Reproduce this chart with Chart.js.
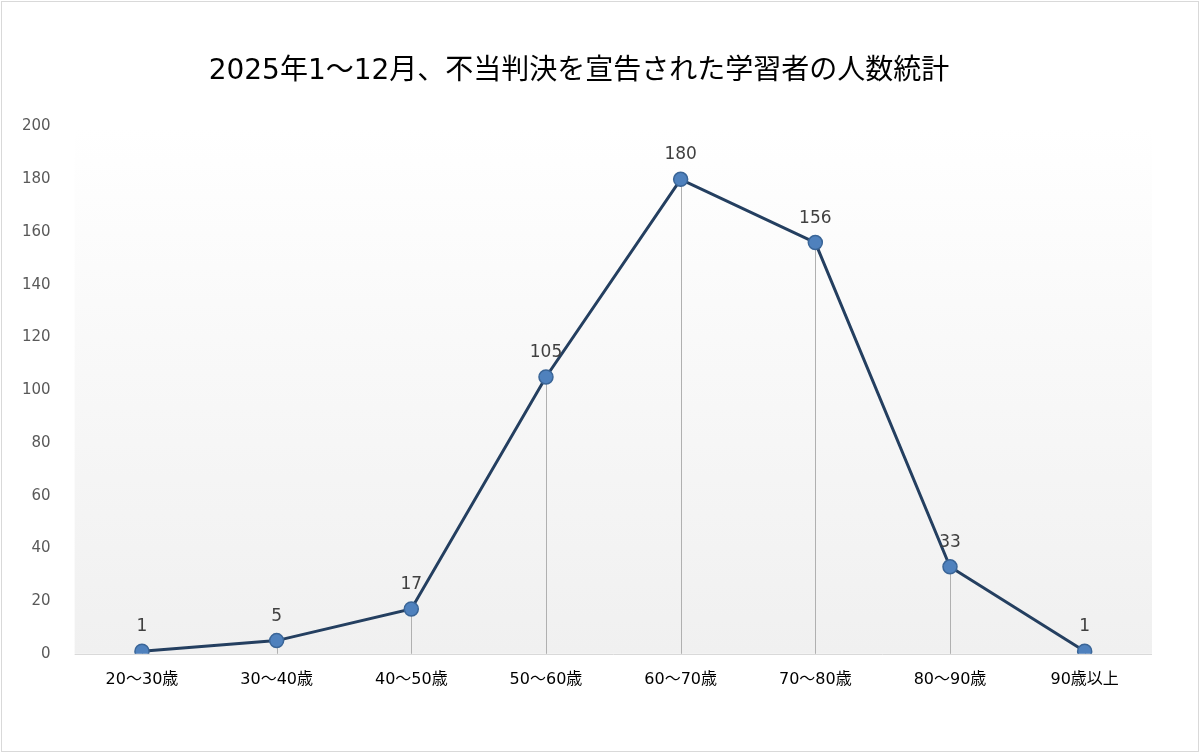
<!DOCTYPE html>
<html>
<head>
<meta charset="utf-8">
<script src="https://cdn.jsdelivr.net/npm/chart.js@4"></script>
<style>
html, body { margin: 0; padding: 0; background: #fff; }
#wrap { position: absolute; left: 1px; top: 1px; width: 1196px; height: 749px; border: 1px solid #d9d9d9; }
</style>
</head>
<body>
<div id="wrap"><canvas id="c" width="1196" height="749"></canvas></div>
<script>
const categories = ['20～30歳', '30～40歳', '40～50歳', '50～60歳', '60～70歳', '70～80歳', '80～90歳', '90歳以上'];
const counts = [1, 5, 17, 105, 180, 156, 33, 1];
const titleText = '2025年1～12月、不当判決を宣告された学習者の人数統計';
const fontFamily = 'Verdana, "DejaVu Sans", "Noto Sans CJK JP", sans-serif';

// plot background gradient + drop lines + value labels
const extras = {
    id: 'extras',
    beforeDatasetsDraw(chart) {
        const ctx = chart.ctx, a = chart.chartArea;
        var g = ctx.createLinearGradient(0, a.top, 0, a.bottom);
        g.addColorStop(0, '#ffffff');
        g.addColorStop(1, '#f0f0f0');
        ctx.save();
        ctx.fillStyle = g;
        ctx.fillRect(a.left, a.top, a.right - a.left, a.bottom - a.top);
        const x = chart.scales.x, y = chart.scales.y;
        ctx.strokeStyle = '#b0b0b0';
        ctx.lineWidth = 1;
        counts.forEach(function (v, i) {
            const px = Math.round(x.getPixelForValue(i)) + 0.5;
            ctx.beginPath();
            ctx.moveTo(px, y.getPixelForValue(v));
            ctx.lineTo(px, y.getPixelForValue(0));
            ctx.stroke();
        });
        ctx.strokeStyle = '#d9d9d9';
        ctx.beginPath();
        ctx.moveTo(a.left, Math.round(y.getPixelForValue(0)) + 0.5);
        ctx.lineTo(a.right, Math.round(y.getPixelForValue(0)) + 0.5);
        ctx.stroke();
        ctx.restore();
    },
    afterDatasetsDraw(chart) {
        const ctx = chart.ctx;
        const x = chart.scales.x, y = chart.scales.y;
        ctx.save();
        ctx.fillStyle = '#404040';
        ctx.font = '17px ' + fontFamily;
        ctx.textAlign = 'center';
        ctx.textBaseline = 'bottom';
        counts.forEach(function (v, i) {
            ctx.fillText(String(v), x.getPixelForValue(i), y.getPixelForValue(v) - 16);
        });
        ctx.restore();
    }
};

const ctx = document.getElementById('c').getContext('2d');
new Chart(ctx, {
    type: 'line',
    data: {
        labels: categories,
        datasets: [{
            data: counts,
            borderColor: '#243f60',
            borderWidth: 3,
            pointRadius: 7,
            pointHoverRadius: 7,
            pointBackgroundColor: '#4f81bd',
            pointBorderColor: '#3a6597',
            pointBorderWidth: 1.5,
            tension: 0
        }]
    },
    options: {
        responsive: false,
        animation: false,
        layout: { padding: { left: 4, right: 46, top: 10, bottom: 54 } },
        plugins: {
            legend: { display: false },
            tooltip: { enabled: false },
            title: {
                display: true,
                text: titleText,
                color: '#000',
                font: { size: 28, family: fontFamily, weight: 'normal' },
                padding: { top: 43, bottom: 38 }
            }
        },
        scales: {
            x: {
                offset: true,
                grid: { display: false },
                border: { display: false },
                ticks: { color: '#000', font: { size: 16, family: fontFamily }, padding: 8 }
            },
            y: {
                min: 0,
                max: 200,
                grid: { display: false },
                border: { display: false },
                ticks: { stepSize: 20, color: '#595959', font: { size: 15, family: fontFamily }, padding: 16 }
            }
        }
    },
    plugins: [extras]
});
</script>
</body>
</html>
